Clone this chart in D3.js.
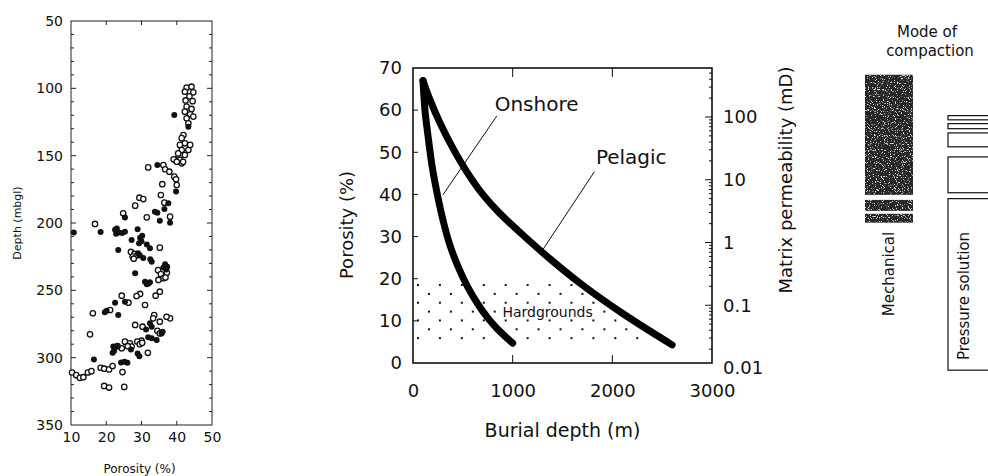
<!DOCTYPE html>
<html>
<head>
<meta charset="utf-8">
<script src="https://cdn.jsdelivr.net/npm/d3@7"></script>
<style>
  body { margin: 0; background: #fff; }
  svg { display: block; }
  text { font-family: "DejaVu Sans", sans-serif; fill: #111; }
</style>
</head>
<body>
<script>
// ---- data: left panel (porosity %, depth mbgl) ----
var openPts = [
  [42.8,99.5],[44.2,98.8],[42.3,102.5],[44.7,103],[43.6,106],[42.5,109],[44.5,109.5],[42.8,113.6],
  [44.2,115.3],[42.3,117.3],[43.8,119.3],[44.7,121],[42.8,122.3],[43.3,126],[41.9,134.7],[41.4,137],
  [42.3,140.8],[40.9,142],[43.8,142],[41.4,145.8],[43.3,145.8],[40.4,148.3],[42.3,149.5],[40.9,153],
  [39.5,153],[41.4,155.7],[39.1,152.7],[40.0,154.5],[41.8,154.6],
  [31.9,158.7],[36.2,157],[36.7,160.1],[37.9,161.9],[39.3,165.6],[39.8,167.5],[40,171.8],[35.9,171.2],
  [35.5,179.2],[29.4,181.2],[30.5,182.2],[36.5,184.9],[28.2,187.1],[24.8,192.8],[38.1,195.3],[31.5,195.8],
  [16.8,200.7],[35.2,218.3],[27,221.5],[28,223],[27.5,225],[28.8,224],[27.8,226.5],[34.7,235],[35.5,238],
  [36.2,241],[37.2,237],[36.8,240.5],[34.8,242.3],[35.2,251],[34,254],[29.6,252.7],[28.6,254.2],[24.4,254],
  [26.3,259.2],[31,260.9],[21.1,264.6],[16.2,267],[33.6,268.3],[33.3,270.8],[38.1,270.8],[37.1,269.6],
  [35.2,273.3],[28.2,275.7],[30.3,277],[34.5,280],[35.2,282],[15.4,282.7],[30,287.4],[25.3,288.1],
  [26.7,289.3],[24.4,293],[27.2,291.8],[26.1,291.5],[28.8,288],[29.5,290],[30.2,289],[31.8,296.4],
  [23.2,291.5],[18.4,307.5],[19.4,308.2],[20.8,308.7],[21.8,306.2],[24.6,310.7],[10.3,311],[11.5,313],
  [12.5,315],[13.5,314.5],[14.8,311],[15.8,310],[19.4,321],[20.8,322.2],[25.1,321.7]
];
var filledPts = [
  [39.3,119.8],[43.3,128.5],[34.5,157],[39.8,176.7],[37.6,185.4],[33.8,191.6],[34.5,192.3],[36.5,189.6],
  [25.3,196],[35.2,198.3],[38.1,199.8],[23,204],[28.9,204.7],[10.8,207],[18.4,206.6],[22.5,205],
  [23.5,207],[24.5,207.5],[25.3,206.5],[22.8,208],[27.2,212.6],[29.6,211],[30,213.5],[29.3,215],
  [30.2,209.5],[31.5,216],[32.4,218.8],[23.4,220],[29,222.5],[29.5,224],[30.5,226],[32.9,228.7],
  [32.5,227],[36.7,230.7],[36.2,233],[37.3,232.5],[37,234.5],[28.2,237.4],[31,243.6],[32.4,244],
  [31.5,245.5],[32,245],[25.3,258.4],[22.5,259.2],[19.6,266.3],[20.1,265.1],[23.4,268.3],[32.4,274.5],
  [32.9,277],[31.3,279],[36,280.7],[35.7,282],[31.9,284.9],[32.9,285.6],[34.3,286.9],[22,291.8],
  [23,291.8],[27,294],[21.8,296.4],[22.2,295],[28.9,296.9],[29.4,298.9],[16.5,301.3],[24.2,303.5],
  [25.2,303],[26,303.8]
];
var leftXTicks = [10, 20, 30, 40, 50];
var leftYTicks = [50, 100, 150, 200, 250, 300, 350];

// ---- data: middle panel (burial depth m, porosity %) ----
var onshore = [[100,67],[120,60],[150,54],[190,47],[240,40.5],[300,34],[370,28],[450,23],[550,18],
  [650,14],[750,10.7],[850,8],[1000,4.7]];
var pelagic = [[100,67],[170,62.5],[270,57],[400,51],[550,45],[700,40],[850,36],[1050,31.5],
  [1370,24.8],[1700,18.5],[2100,11.8],[2600,4.3]];
var hardRows = [18.5, 16.4, 14.3, 12.2, 10.1, 8.0, 5.9];   // stipple rows (porosity)
var porTicks = [0, 10, 20, 30, 40, 50, 60, 70];
var depthTicks = [0, 1000, 2000, 3000];
var permTicks = [0.01, 0.1, 1, 10, 100];

// ---- data: mode of compaction (porosity ranges) ----
var mechanical = [[68.4, 39.9], [38.7, 36.1], [35.4, 33.3]];
var pressure = [[58.7, 57.7], [56.8, 55.6], [54.6, 51.3], [48.9, 40.4], [39.0, -1.7]];

var svgWidth = 988, svgHeight = 476;

var svg = d3.select('body')
    .append('svg')
    .attr('width', svgWidth)
    .attr('height', svgHeight);

var defs = svg.append('defs');

// light speckle over the dark mechanical bar
var flt = defs.append('filter')
    .attr('id', 'grain')
    .attr('color-interpolation-filters', 'sRGB')
    .attr('x', 0).attr('y', 0).attr('width', 1).attr('height', 1);
flt.append('feTurbulence')
    .attr('type', 'fractalNoise').attr('baseFrequency', 0.85)
    .attr('numOctaves', 2).attr('seed', 7).attr('result', 'noise');
flt.append('feColorMatrix')
    .attr('in', 'noise').attr('type', 'matrix')
    .attr('values', '0 0 0 0 0.85  0 0 0 0 0.85  0 0 0 0 0.85  9 0 0 0 -5.2')
    .attr('result', 'spk');
flt.append('feComposite')
    .attr('in', 'spk').attr('in2', 'SourceGraphic').attr('operator', 'in');

// ================= LEFT PANEL =================
var xL = d3.scaleLinear().domain([10, 50]).range([71, 212]);
var yL = d3.scaleLinear().domain([50, 350]).range([21, 425]);

var gL = svg.append('g');

gL.append('rect')
    .attr('x', xL(10)).attr('y', yL(50))
    .attr('width', xL(50) - xL(10)).attr('height', yL(350) - yL(50))
    .attr('fill', 'none').attr('stroke', '#222').attr('stroke-width', 1);

var minorDepth = d3.range(60, 350, 10);
// left and right inward ticks
gL.selectAll('.tl').data(minorDepth).enter().append('line')
    .attr('x1', xL(10)).attr('x2', d => xL(10) + (d % 50 === 0 ? 5 : 3))
    .attr('y1', d => yL(d)).attr('y2', d => yL(d))
    .attr('stroke', '#222');
gL.selectAll('.tr').data(minorDepth).enter().append('line')
    .attr('x1', xL(50)).attr('x2', d => xL(50) - (d % 50 === 0 ? 5 : 3))
    .attr('y1', d => yL(d)).attr('y2', d => yL(d))
    .attr('stroke', '#222');
// top and bottom ticks
[yL(50), yL(350)].forEach(function (yy, k) {
    gL.selectAll('.tb' + k).data([20, 30, 40]).enter().append('line')
        .attr('x1', d => xL(d)).attr('x2', d => xL(d))
        .attr('y1', yy).attr('y2', yy + (k === 0 ? 4 : -4))
        .attr('stroke', '#222');
});

var axL = gL.append('g')
    .attr('transform', `translate(${ xL(10) }, 0)`)
    .call(d3.axisLeft(yL).tickValues(leftYTicks).tickSize(0).tickPadding(8));
var axB = gL.append('g')
    .attr('transform', `translate(0, ${ yL(350) })`)
    .call(d3.axisBottom(xL).tickValues(leftXTicks).tickSize(0).tickPadding(7));
[axL, axB].forEach(function (a) {
    a.select('.domain').remove();
    a.selectAll('text').attr('font-size', 14).attr('font-family', '"DejaVu Sans", sans-serif').attr('fill', '#111');
});

gL.append('text')
    .attr('transform', `translate(17, ${ (yL(50) + yL(350)) / 2 }) rotate(-90)`)
    .attr('text-anchor', 'middle').attr('dy', '0.35em')
    .attr('font-size', 11)
    .text('Depth  (mbgl)');
gL.append('text')
    .attr('x', (xL(10) + xL(50)) / 2 - 2).attr('y', 469)
    .attr('text-anchor', 'middle').attr('dy', '0.35em')
    .attr('font-size', 12)
    .text('Porosity  (%)');

gL.append('g').selectAll('circle')
    .data(openPts).enter().append('circle')
    .attr('cx', d => xL(d[0])).attr('cy', d => yL(d[1]))
    .attr('r', 2.7)
    .attr('fill', '#fff').attr('stroke', '#111').attr('stroke-width', 1.3);
gL.append('g').selectAll('circle')
    .data(filledPts).enter().append('circle')
    .attr('cx', d => xL(d[0])).attr('cy', d => yL(d[1]))
    .attr('r', 3)
    .attr('fill', '#111');

// ================= MIDDLE PANEL =================
var xM = d3.scaleLinear().domain([0, 3000]).range([413, 712]);
var yM = d3.scaleLinear().domain([0, 70]).range([363, 68]);
var yP = d3.scaleLog().domain([0.01, 100]).range([368, 117]);

var gM = svg.append('g');

// stipple under the pelagic curve
var pelInterp = function (x) {
    for (var i = 1; i < pelagic.length; i++) {
        if (x <= pelagic[i][0]) {
            var a = pelagic[i - 1], b = pelagic[i];
            return a[1] + (b[1] - a[1]) * (x - a[0]) / (b[0] - a[0]);
        }
    }
    return 0;
};
var stipple = [];
hardRows.forEach(function (p, i) {
    for (var x = (i % 2 ? 160 : 50); x < 2400; x += 220) {
        if (p < pelInterp(x) - 0.6) stipple.push([x, p]);
    }
});
gM.append('g').selectAll('rect')
    .data(stipple).enter().append('rect')
    .attr('x', d => xM(d[0]) - 1).attr('y', d => yM(d[1]) - 1)
    .attr('width', 2).attr('height', 2)
    .attr('fill', '#111');

gM.append('text')
    .attr('x', xM(1350)).attr('y', yM(12.1))
    .attr('text-anchor', 'middle').attr('dy', '0.35em')
    .attr('font-size', 14)
    .attr('stroke', '#fff').attr('stroke-width', 4).attr('paint-order', 'stroke')
    .text('Hardgrounds');

// frame
gM.append('rect')
    .attr('x', xM(0)).attr('y', yM(70))
    .attr('width', xM(3000) - xM(0)).attr('height', yM(0) - yM(70))
    .attr('fill', 'none').attr('stroke', '#111').attr('stroke-width', 1.6);

// inward ticks
gM.selectAll('.pt').data(porTicks.slice(1, -1)).enter().append('line')
    .attr('x1', xM(0)).attr('x2', xM(0) + 5)
    .attr('y1', d => yM(d)).attr('y2', d => yM(d))
    .attr('stroke', '#111');
gM.selectAll('.dt').data([1000, 2000]).enter().append('line')
    .attr('x1', d => xM(d)).attr('x2', d => xM(d))
    .attr('y1', yM(70)).attr('y2', yM(70) + 9)
    .attr('stroke', '#111');
gM.selectAll('.db').data([1000, 2000]).enter().append('line')
    .attr('x1', d => xM(d)).attr('x2', d => xM(d))
    .attr('y1', yM(0)).attr('y2', yM(0) - 8)
    .attr('stroke', '#111');

var logTicks = [];
[0.01, 0.1, 1, 10, 100].forEach(function (dec) {
    for (var m = 1; m < 10; m++) logTicks.push(dec * m);
});
logTicks = logTicks.filter(d => yP(d) > yM(70) + 2 && yP(d) < yM(0) - 1);
gM.selectAll('.lt').data(logTicks).enter().append('line')
    .attr('x1', xM(3000)).attr('x2', d => xM(3000) - (permTicks.indexOf(d) >= 0 ? 7 : 3))
    .attr('y1', d => yP(d)).attr('y2', d => yP(d))
    .attr('stroke', '#111');

var axML = gM.append('g')
    .attr('transform', `translate(${ xM(0) }, 0)`)
    .call(d3.axisLeft(yM).tickValues(porTicks).tickSize(0).tickPadding(11));
var axMB = gM.append('g')
    .attr('transform', `translate(0, ${ yM(0) })`)
    .call(d3.axisBottom(xM).tickValues(depthTicks).tickFormat(d3.format('d')).tickSize(0).tickPadding(21));
var axMR = gM.append('g')
    .attr('transform', `translate(${ xM(3000) }, 0)`)
    .call(d3.axisRight(yP).tickValues(permTicks).tickFormat(d => String(d)).tickSize(0).tickPadding(11));
[axML, axMB, axMR].forEach(function (a) {
    a.select('.domain').remove();
    a.selectAll('text').attr('font-size', 18).attr('font-family', '"DejaVu Sans", sans-serif').attr('fill', '#111');
});

gM.append('text')
    .attr('transform', `translate(347, 225) rotate(-90)`)
    .attr('text-anchor', 'middle').attr('dy', '0.35em')
    .attr('font-size', 18)
    .text('Porosity  (%)');
gM.append('text')
    .attr('transform', `translate(786, 180) rotate(-90)`)
    .attr('text-anchor', 'middle').attr('dy', '0.35em')
    .attr('font-size', 18)
    .text('Matrix permeability  (mD)');
gM.append('text')
    .attr('x', (xM(0) + xM(3000)) / 2).attr('y', 430)
    .attr('text-anchor', 'middle').attr('dy', '0.35em')
    .attr('font-size', 19)
    .text('Burial depth  (m)');

var line = d3.line()
    .x(d => xM(d[0]))
    .y(d => yM(d[1]))
    .curve(d3.curveCatmullRom.alpha(0.5));
[onshore, pelagic].forEach(function (s) {
    gM.append('path')
        .datum(s)
        .attr('d', line)
        .attr('fill', 'none').attr('stroke', '#000')
        .attr('stroke-width', 7).attr('stroke-linecap', 'round');
});

// leaders and labels
gM.append('line')
    .attr('x1', xM(840)).attr('y1', yM(58.6)).attr('x2', xM(300)).attr('y2', yM(39.9))
    .attr('stroke', '#111').attr('stroke-width', 1);
gM.append('line')
    .attr('x1', xM(1820)).attr('y1', yM(45.4)).attr('x2', xM(1300)).attr('y2', yM(26.8))
    .attr('stroke', '#111').attr('stroke-width', 1);
gM.append('text')
    .attr('x', xM(1240)).attr('y', yM(61.5))
    .attr('text-anchor', 'middle').attr('dy', '0.35em')
    .attr('font-size', 20)
    .text('Onshore');
gM.append('text')
    .attr('x', xM(2190)).attr('y', yM(48.9))
    .attr('text-anchor', 'middle').attr('dy', '0.35em')
    .attr('font-size', 20)
    .text('Pelagic');

// ================= RIGHT PANEL =================
var gR = svg.append('g');
gR.append('text')
    .attr('x', 927).attr('y', 32).attr('dy', '0.35em')
    .attr('text-anchor', 'middle').attr('font-size', 15)
    .text('Mode of');
gR.append('text')
    .attr('x', 930).attr('y', 51).attr('dy', '0.35em')
    .attr('text-anchor', 'middle').attr('font-size', 15)
    .text('compaction');

var mech = gR.selectAll('.mech').data(mechanical).enter();
mech.append('rect')
    .attr('x', 865).attr('width', 48)
    .attr('y', d => yM(d[0])).attr('height', d => yM(d[1]) - yM(d[0]))
    .attr('fill', '#262626');
mech.append('rect')
    .attr('x', 865).attr('width', 48)
    .attr('y', d => yM(d[0])).attr('height', d => yM(d[1]) - yM(d[0]))
    .attr('fill', '#000')
    .attr('filter', 'url(#grain)');
gR.selectAll('.pres').data(pressure).enter().append('rect')
    .attr('x', 948).attr('width', 60)
    .attr('y', d => yM(d[0])).attr('height', d => yM(d[1]) - yM(d[0]))
    .attr('fill', '#fff').attr('stroke', '#111').attr('stroke-width', 1.2);

gR.append('text')
    .attr('transform', `translate(889, 274) rotate(-90)`)
    .attr('text-anchor', 'middle').attr('dy', '0.35em')
    .attr('font-size', 15)
    .text('Mechanical');
gR.append('text')
    .attr('transform', `translate(964, 296) rotate(-90)`)
    .attr('text-anchor', 'middle').attr('dy', '0.35em')
    .attr('font-size', 15)
    .text('Pressure solution');
</script>
</body>
</html>
